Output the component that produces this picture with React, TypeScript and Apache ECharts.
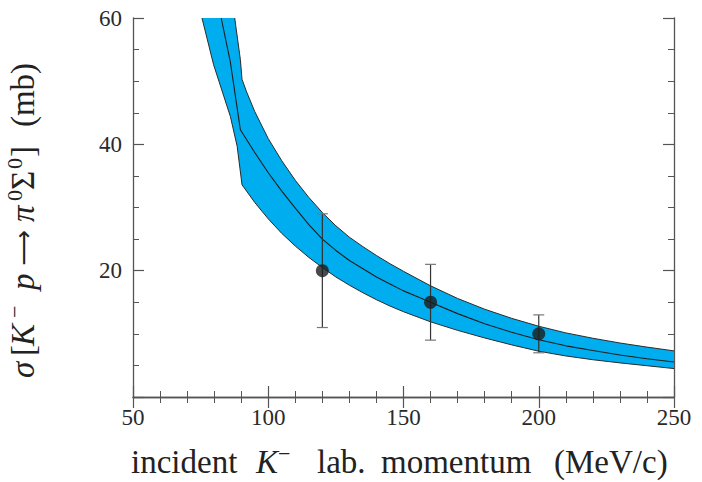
import React, { useEffect, useRef } from "react";
import * as echarts from "echarts";

// Band: upper edge, central curve, lower edge  [momentum MeV/c, sigma mb]
const upperEdge: number[][] = [
  [87.6, 60], [89.7, 53.4], [90.3, 50.3], [92, 48.3], [95, 45.2], [100, 40.9], [105, 37.4],
  [110, 34.3], [115, 31.6], [120, 29.2], [125, 27.1], [130, 25.3], [135, 23.8], [140, 22.4],
  [145, 21.1], [150, 19.9], [155, 18.75], [160, 17.6], [170, 15.6], [180, 13.9], [190, 12.45],
  [200, 11.2], [210, 10.15], [220, 9.3], [230, 8.55], [240, 7.9], [250, 7.3],
];
const centralCurve: number[][] = [
  [82.6, 60], [86, 53.0], [89.7, 42.3], [95, 38.7], [100, 35.5], [105, 32.6], [110, 29.9],
  [115, 27.3], [120, 25.0], [125, 23.2], [130, 21.6], [135, 20.3], [140, 19.0], [145, 17.9],
  [150, 16.8], [155, 15.9], [160, 15.0], [170, 13.2], [180, 11.6], [190, 10.25], [200, 9.05],
  [210, 8.1], [220, 7.35], [230, 6.65], [240, 6.05], [250, 5.55],
];
const lowerEdge: number[][] = [
  [75.5, 60], [79.8, 52.6], [86, 44.4], [88.5, 39.7], [90.3, 33.6], [95, 30.8], [100, 28.2],
  [105, 25.9], [110, 23.9], [115, 22.1], [120, 20.5], [125, 19.0], [130, 17.7], [135, 16.5],
  [140, 15.4], [145, 14.4], [150, 13.5], [155, 12.7], [160, 11.9], [170, 10.55], [180, 9.35],
  [190, 8.25], [200, 7.25], [210, 6.5], [220, 5.9], [230, 5.4], [240, 4.95], [250, 4.5],
];

// Measurements
const dataMomentum = [120, 160, 200];
const dataSigma = [20, 15, 10];
const dataLow = [11, 9, 7];
const dataHigh = [29, 21, 13];

const FONT = "Liberation Serif";
const TXT = "#222";
const AX = "#555";

const base = { fontSize: 33, fontFamily: FONT, color: TXT, lineHeight: 40, align: "left" };
const ital = { ...base, fontStyle: "italic" };
const sup = { fontSize: 22, fontFamily: FONT, color: TXT, verticalAlign: "top", align: "left" };

const xRich = {
  w1: { ...base, width: 125 },
  k: { ...ital, width: 22 },
  m: { ...sup, width: 39 },
  w2: { ...base, width: 64 },
  w3: { ...base, width: 173 },
  w4: { ...base, width: 122 },
};

const yRich = {
  sg: { ...ital, width: 22 },
  lb: { ...base, width: 10 },
  k: { ...ital, width: 28 },
  m: { ...sup, width: 28 },
  p: { ...ital, width: 24 },
  ar: { fontSize: 25, fontFamily: "DejaVu Sans", color: TXT, lineHeight: 40, width: 44, align: "left" },
  pi: { ...ital, width: 21 },
  z1: { ...sup, width: 11 },
  S: { ...base, width: 21 },
  z2: { ...sup, width: 12 },
  rb: { ...base, width: 30 },
  mb: { ...base },
};

const tickRich = { t: { fontFamily: FONT, fontSize: 23, color: "#2a2a2a" } };

export default function App() {
  const ref = useRef<HTMLDivElement>(null);
  useEffect(() => {
    if (!ref.current) return;
    const chart = echarts.init(ref.current, undefined, { renderer: "svg" });

    const axisCommon = {
      axisLine: { show: true, lineStyle: { color: AX, width: 1.3 } },
      splitLine: { show: false },
    };
    const xCommon = {
      ...axisCommon,
      type: "value",
      min: 50,
      max: 250,
      interval: 50,
      axisTick: { show: true, inside: true, length: 11, lineStyle: { color: AX, width: 1.2 } },
      minorTick: { show: true, splitNumber: 5, length: 6, lineStyle: { color: AX, width: 1 } },
    };
    const yCommon = {
      ...axisCommon,
      type: "value",
      min: 0,
      max: 60,
      interval: 20,
      axisTick: { show: true, inside: true, length: 11, lineStyle: { color: AX, width: 1.2 } },
      minorTick: { show: true, splitNumber: 4, length: 6, lineStyle: { color: AX, width: 1 } },
    };

    const errData = dataMomentum.map((x, k) => [x, dataLow[k], dataHigh[k]]);
    const ptsData = dataMomentum.map((x, k) => [x, dataSigma[k]]);

    const option: any = {
      animation: false,
      textStyle: { fontFamily: FONT },
      grid: { left: 133, right: 28, top: 18, bottom: 85, outerBoundsMode: "none", containLabel: false },
      xAxis: [
        {
          ...xCommon,
          position: "bottom",
          axisLabel: {
            show: true,
            fontFamily: FONT,
            fontSize: 23,
            color: TXT,
            margin: 9,
            formatter: (v: number) => "{t|" + v + "}",
            rich: tickRich,
          },
          name: "{w1|incident}{k|K}{m|−}{w2|lab.}{w3|momentum}{w4|(MeV/c)}",
          nameLocation: "middle",
          nameGap: 45,
          nameTextStyle: { fontFamily: FONT, rich: xRich },
        },
        {
          ...xCommon,
          position: "top",
          axisLabel: { show: false },
        },
      ],
      yAxis: [
        {
          ...yCommon,
          position: "left",
          axisLabel: {
            show: true,
            fontFamily: FONT,
            fontSize: 23,
            color: TXT,
            margin: 11,
            formatter: (v: number) => (v === 0 ? "" : "{t|" + v + "}"),
            rich: tickRich,
          },
          name: "{sg|σ}{lb|[}{k|K}{m|−}{p|p}{ar|⟶}{pi|π}{z1|0}{S|Σ}{z2|0}{rb|]}{mb|(mb)}",
          nameLocation: "middle",
          nameRotate: 90,
          nameGap: 90,
          nameTextStyle: { fontFamily: FONT, rich: yRich, padding: [0, 26, 0, 0] },
        },
        {
          ...yCommon,
          position: "right",
          axisLabel: { show: false },
        },
      ],
      series: [
        {
          type: "custom",
          name: "band",
          data: [[100, 30]],
          z: 1,
          silent: true,
          renderItem: (params: any, api: any) => {
            const pts = [
              ...upperEdge.map((p) => api.coord(p)),
              ...lowerEdge.slice().reverse().map((p) => api.coord(p)),
            ];
            return {
              type: "polygon",
              shape: { points: pts },
              style: { fill: "#00adee", stroke: "none" },
            };
          },
        },
        {
          type: "line",
          data: upperEdge,
          symbol: "none",
          z: 2,
          lineStyle: { color: "#2b2b2b", width: 1 },
        },
        {
          type: "line",
          data: lowerEdge,
          symbol: "none",
          z: 2,
          lineStyle: { color: "#2b2b2b", width: 1 },
        },
        {
          type: "line",
          data: centralCurve,
          symbol: "none",
          z: 2,
          lineStyle: { color: "#1e1e1e", width: 1.1 },
        },
        {
          type: "custom",
          name: "errors",
          data: errData,
          encode: { x: 0, y: [1, 2] },
          z: 3,
          renderItem: (params: any, api: any) => {
            const x = api.value(0);
            const lo = api.coord([x, api.value(1)]);
            const hi = api.coord([x, api.value(2)]);
            const w = 5.5;
            return {
              type: "group",
              children: [
                { type: "line", shape: { x1: lo[0], y1: lo[1], x2: hi[0], y2: hi[1] }, style: { stroke: "#333", lineWidth: 1.2 } },
                { type: "line", shape: { x1: lo[0] - w, y1: lo[1], x2: lo[0] + w, y2: lo[1] }, style: { stroke: "#777", lineWidth: 1.2 } },
                { type: "line", shape: { x1: hi[0] - w, y1: hi[1], x2: hi[0] + w, y2: hi[1] }, style: { stroke: "#777", lineWidth: 1.2 } },
              ],
            };
          },
        },
        {
          type: "scatter",
          data: ptsData,
          symbol: "circle",
          symbolSize: 13,
          z: 4,
          itemStyle: { color: "#1c1c1c" },
        },
      ],
    };
    chart.setOption(option);
    return () => chart.dispose();
  }, []);
  return (
    <div
      ref={ref}
      style={{ position: "absolute", left: 0, top: 0, width: 702, height: 482, background: "#fff" }}
    />
  );
}
